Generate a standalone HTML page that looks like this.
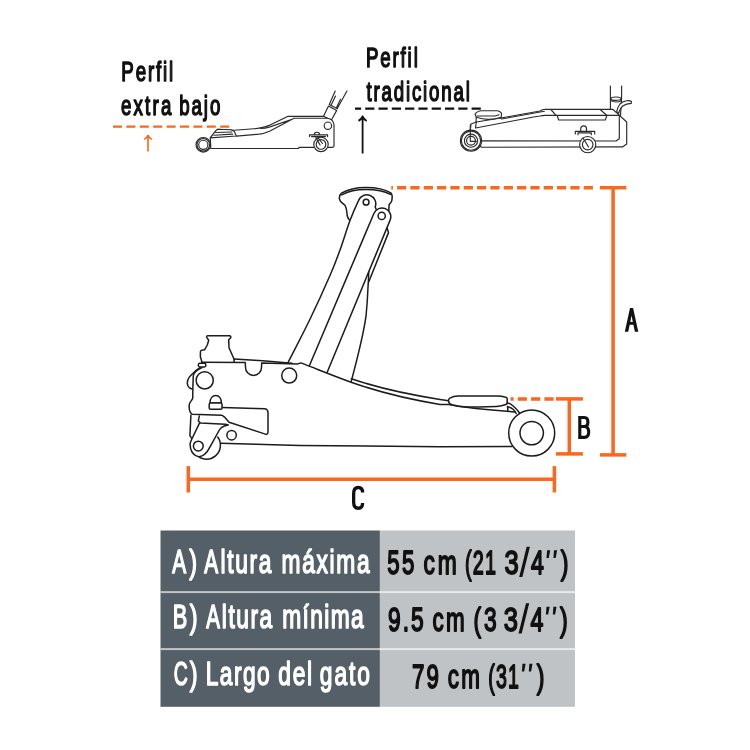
<!DOCTYPE html>
<html>
<head>
<meta charset="utf-8">
<title>Gato hidraulico - dimensiones</title>
<style>
  html, body { margin: 0; padding: 0; background: #ffffff; }
  body { width: 750px; height: 750px; overflow: hidden; font-family: "Liberation Sans", sans-serif; }
  svg { display: block; position: absolute; left: 0; top: 0; }
  text { font-family: "Liberation Sans", sans-serif; font-weight: normal; stroke-linejoin: round; }
  .tw { fill: #ffffff; stroke: #ffffff; stroke-width: 1.6; }
  .tb { fill: #111111; stroke: #111111; stroke-width: 1.8; }
  .tl { fill: #111111; stroke: #111111; stroke-width: 1.55; }
  .ln { fill: none; stroke: #1c1c1c; stroke-width: 1.5; stroke-linecap: round; stroke-linejoin: round; }
  .lf { fill: #ffffff; stroke: #1c1c1c; stroke-width: 1.5; stroke-linecap: round; stroke-linejoin: round; }
  .sm { fill: none; stroke: #2a2a2a; stroke-width: 1.15; stroke-linecap: round; stroke-linejoin: round; }
  .sf { fill: #ffffff; stroke: #2a2a2a; stroke-width: 1.15; stroke-linecap: round; stroke-linejoin: round; }
  .or { fill: none; stroke: #fb671c; stroke-width: 3.5; }
</style>
</head>
<body>
<svg width="750" height="750" viewBox="0 0 750 750">
  <defs><filter id="noLcd" filterUnits="userSpaceOnUse" x="0" y="0" width="750" height="750"><feOffset dx="0" dy="0"/></filter></defs>
  <rect x="0" y="0" width="750" height="750" fill="#ffffff"/>

  <!-- ===== table ===== -->
  <g id="table">
    <rect x="160.5" y="530.5" width="219.4" height="176.3" fill="#545f67"/>
    <rect x="379.9" y="530.5" width="195.1" height="176.3" fill="#bfc3c5"/>
    <rect x="160.5" y="591.1" width="414.5" height="2" fill="#ffffff" fill-opacity="0.64"/>
    <rect x="160.5" y="648.1" width="414.5" height="2" fill="#ffffff" fill-opacity="0.64"/>
    <g fill="#111111" id="quotes"><polygon points="526.7,546.7 529.9,546.7 522.4,577.0 519.2,577.0"/><polygon points="526.0,603.3 529.2,603.3 521.7,633.6 518.5,633.6"/><polygon points="547.1,550.2 550.2,550.2 548.8,557.9 546.5,557.9"/><polygon points="554.0,550.2 557.1,550.2 555.7,557.9 553.4,557.9"/><polygon points="546.5,606.8 549.6,606.8 548.2,614.5 545.9,614.5"/><polygon points="553.4,606.8 556.5,606.8 555.1,614.5 552.8,614.5"/><polygon points="522.5,663.8 525.6,663.8 524.2,671.5 521.9,671.5"/><polygon points="529.4,663.8 532.5,663.8 531.1,671.5 528.8,671.5"/></g>
    <g filter="url(#noLcd)">
    <g transform="translate(172.25 572.60) scale(0.6209 1)"><text font-size="33.5" class="tw" textLength="23.04" lengthAdjust="spacing">A</text></g>
    <g transform="translate(189.28 572.60) scale(0.7006 1)"><text font-size="33.5" class="tw" textLength="11.50" lengthAdjust="spacing">)</text></g>
    <g transform="translate(204.36 572.60) scale(0.6215 1)"><text font-size="33.5" class="tw" textLength="23.04" lengthAdjust="spacing">A</text></g>
    <g transform="translate(220.45 572.60) scale(0.6800 1)"><text font-size="33.5" class="tw" textLength="74.91" lengthAdjust="spacing">ltura</text></g>
    <g transform="translate(281.60 572.60) scale(0.6800 1)"><text font-size="33.5" class="tw" textLength="129.45" lengthAdjust="spacing">máxima</text></g>
    <g transform="translate(172.71 627.50) scale(0.6494 1)"><text font-size="33.5" class="tw" textLength="22.18" lengthAdjust="spacing">B</text></g>
    <g transform="translate(189.67 627.50) scale(0.6996 1)"><text font-size="33.5" class="tw" textLength="11.50" lengthAdjust="spacing">)</text></g>
    <g transform="translate(206.15 627.50) scale(0.6124 1)"><text font-size="33.5" class="tw" textLength="23.04" lengthAdjust="spacing">A</text></g>
    <g transform="translate(221.85 627.50) scale(0.6800 1)"><text font-size="33.5" class="tw" textLength="74.10" lengthAdjust="spacing">ltura</text></g>
    <g transform="translate(282.20 627.50) scale(0.6800 1)"><text font-size="33.5" class="tw" textLength="119.82" lengthAdjust="spacing">mínima</text></g>
    <g transform="translate(173.72 685.20) scale(0.5792 1)"><text font-size="33.5" class="tw" textLength="22.73" lengthAdjust="spacing">C</text></g>
    <g transform="translate(189.67 685.20) scale(0.6996 1)"><text font-size="33.5" class="tw" textLength="11.50" lengthAdjust="spacing">)</text></g>
    <g transform="translate(205.68 685.20) scale(0.6800 1)"><text font-size="33.5" class="tw" textLength="94.14" lengthAdjust="spacing">Largo</text></g>
    <g transform="translate(278.31 685.20) scale(0.6800 1)"><text font-size="33.5" class="tw" textLength="49.70" lengthAdjust="spacing">del</text></g>
    <g transform="translate(319.74 685.20) scale(0.6800 1)"><text font-size="33.5" class="tw" textLength="73.88" lengthAdjust="spacing">gato</text></g>
    <g transform="translate(387.13 574.00) scale(0.6638 1)"><text font-size="33.5" class="tb" textLength="41.20" lengthAdjust="spacing">55</text></g>
    <g transform="translate(423.60 574.00) scale(0.6800 1)"><text font-size="33.5" class="tb" textLength="48.78" lengthAdjust="spacing">cm</text></g>
    <g transform="translate(464.97 574.00) scale(0.5930 1)"><text font-size="33.5" class="tb" textLength="52.24" lengthAdjust="spacing">(21</text></g>
    <g transform="translate(504.55 574.00) scale(0.7598 1)"><text font-size="33.5" class="tb" textLength="19.21" lengthAdjust="spacing">3</text></g>
    <g transform="translate(531.10 574.00) scale(0.6916 1)"><text font-size="33.5" class="tb" textLength="19.21" lengthAdjust="spacing">4</text></g>
    <g transform="translate(560.80 574.00) scale(0.6910 1)"><text font-size="33.5" class="tb" textLength="11.50" lengthAdjust="spacing">)</text></g>
    <g transform="translate(388.05 630.50) scale(0.6800 1)"><text font-size="33.5" class="tb" textLength="52.27" lengthAdjust="spacing">9.5</text></g>
    <g transform="translate(432.43 630.50) scale(0.6690 1)"><text font-size="33.5" class="tb" textLength="48.21" lengthAdjust="spacing">cm</text></g>
    <g transform="translate(473.61 630.60) scale(0.6800 1)"><text font-size="33.5" class="tb" textLength="33.90" lengthAdjust="spacing">(3</text></g>
    <g transform="translate(503.85 630.60) scale(0.7598 1)"><text font-size="33.5" class="tb" textLength="19.21" lengthAdjust="spacing">3</text></g>
    <g transform="translate(530.40 630.60) scale(0.6916 1)"><text font-size="33.5" class="tb" textLength="19.21" lengthAdjust="spacing">4</text></g>
    <g transform="translate(560.00 630.60) scale(0.6910 1)"><text font-size="33.5" class="tb" textLength="11.50" lengthAdjust="spacing">)</text></g>
    <g transform="translate(412.03 687.50) scale(0.6664 1)"><text font-size="33.5" class="tb" textLength="40.45" lengthAdjust="spacing">79</text></g>
    <g transform="translate(447.63 687.50) scale(0.6690 1)"><text font-size="33.5" class="tb" textLength="48.21" lengthAdjust="spacing">cm</text></g>
    <g transform="translate(488.30 687.50) scale(0.5850 1)"><text font-size="33.5" class="tb" textLength="52.39" lengthAdjust="spacing">(31</text></g>
    <g transform="translate(536.80 687.50) scale(0.6910 1)"><text font-size="33.5" class="tb" textLength="11.50" lengthAdjust="spacing">)</text></g>
    </g>
  </g>

  <!-- ===== dimension lines ===== -->
  <g id="dims" class="or">
    <!-- A -->
    <line x1="391.3" y1="187.7" x2="596" y2="187.7" stroke-dasharray="9.2 4.133" stroke-dashoffset="7.57"/>
    <line x1="600" y1="187.7" x2="626.3" y2="187.7"/>
    <line x1="613.1" y1="187.7" x2="613.1" y2="454.9"/>
    <line x1="600" y1="454.9" x2="626.3" y2="454.9"/>
    <!-- B -->
    <line x1="510.6" y1="398.9" x2="556" y2="398.9" stroke-dasharray="9.2 4.133" stroke-dashoffset="6.2"/>
    <line x1="556" y1="398.9" x2="582.9" y2="398.9"/>
    <line x1="569.3" y1="398.9" x2="569.3" y2="453.9"/>
    <line x1="556" y1="453.9" x2="582.9" y2="453.9"/>
    <!-- C -->
    <line x1="188.3" y1="479.3" x2="554.4" y2="479.3"/>
    <line x1="188.3" y1="466.1" x2="188.3" y2="492.5"/>
    <line x1="554.4" y1="466.1" x2="554.4" y2="492.5"/>
  </g>
  <g id="abc">
    <path d="M624.8,331.7 L630,308 L633.1,308 L638.3,331.7 L634.9,331.7 L633.37,324.7 L629.73,324.7 L628.2,331.7 Z M630.3,322 L631.55,315.6 L632.8,322 Z" fill="#111111" fill-rule="evenodd"/>
    <path d="M579.8,415.9 L579.8,438.9 M578.2,417.45 L584.3,417.45 C587.2,417.45 587.9,419.4 587.9,421.9 C587.9,424.6 586.9,426.5 584.2,426.5 L579.8,426.5 M584.2,426.5 C587.7,426.5 588.7,428.9 588.7,432 C588.7,435.3 587.5,437.35 584.4,437.35 L578.2,437.35" fill="none" stroke="#111111" stroke-width="3.1" stroke-linejoin="round"/>
    <path d="M362.6,492.6 C362.6,489 361,487.5 358.3,487.5 C355,487.5 353.65,489.5 353.65,493.5 L353.65,502.3 C353.65,506.2 355,508.25 358.3,508.25 C361,508.25 362.6,506.7 362.6,503" fill="none" stroke="#111111" stroke-width="3.3"/>
  </g>

  <!-- ===== top labels ===== -->
  <g id="labels">
    <g filter="url(#noLcd)">
    <g transform="translate(121.32 81.40) scale(0.6800 1)"><text font-size="27.5" class="tl" textLength="76.29" lengthAdjust="spacing">Perfil</text></g>
    <g transform="translate(120.99 114.80) scale(0.6800 1)"><text font-size="27.5" class="tl" textLength="73.97" lengthAdjust="spacing">extra</text></g>
    <g transform="translate(179.25 114.80) scale(0.6800 1)"><text font-size="27.5" class="tl" textLength="60.34" lengthAdjust="spacing">bajo</text></g>
    <g transform="translate(365.92 67.00) scale(0.6800 1)"><text font-size="27.5" class="tl" textLength="76.29" lengthAdjust="spacing">Perfil</text></g>
    <g transform="translate(366.53 100.70) scale(0.6800 1)"><text font-size="27.5" class="tl" textLength="151.96" lengthAdjust="spacing">tradicional</text></g>
    </g>
    <!-- orange dashed + arrow -->
    <line x1="113" y1="126.6" x2="229.2" y2="126.6" stroke="#fb671c" stroke-width="2.2" stroke-dasharray="9 4.4"/>
    <path d="M148,151.6 L148,135.7 M144.2,139.4 Q146.9,138 148,135.4 Q149.1,138 151.8,139.4" fill="none" stroke="#fb671c" stroke-width="1.6" stroke-linejoin="round"/>
    <!-- black dashed + arrow -->
    <line x1="355" y1="108.7" x2="481" y2="108.7" stroke="#111111" stroke-width="2.2" stroke-dasharray="9.2 4.1" stroke-dashoffset="3.1"/>
    <path d="M362.6,153.5 L362.6,116.6 M358.5,120.9 Q361.4,119.2 362.6,116.3 Q363.8,119.2 366.7,120.9" fill="none" stroke="#111111" stroke-width="1.8" stroke-linejoin="round"/>
  </g>

  <!-- ===== main jack ===== -->
  <g id="mainjack">
    <!-- saddle -->
    <path class="lf" d="M339.3,198.6 C339.3,196 340,194.3 341.5,193.2 C347,189.8 356.5,187.4 366,187.4 C376,187.4 385,189.2 390.8,192.9 C391.8,193.9 392.3,195.6 392.2,197.3 L391.8,200.6 C391.3,202.4 390.2,203.6 389.2,204.4 L388.8,209 L388.8,212 L376,212 L350,220.5 L348.7,219 C347.6,217.5 347.4,216.5 347.2,215.5 C346.8,211 346.5,207 344.7,205 C342.5,203.3 339.8,202 339.3,198.6 Z"/>
    <path class="ln" d="M341.7,194.9 C348,191.5 357,189.6 366,189.6 C375.5,189.6 384.5,191.2 390.3,194.4"/>
    <!-- arm 1 -->
    <path class="lf" d="M284,371 C284.7,369.5 284,370.5 288.3,362 C292.6,353.5 302.6,334.5 309.6,320 C316.6,305.5 325.1,286.7 330.2,275 C335.3,263.3 336.7,259 340,250 C343.3,241 346.8,229 349.9,220.8 C353,212.5 356.8,204.2 358.64,200.4 A8.9,8.9 0 0 1 370.2,195.44 A8.9,8.9 0 0 1 375.16,207 L377,211 L371,260 L320,372 Z"/>
    <circle class="lf" cx="366.1" cy="202.2" r="2.9"/>
    <!-- rod + link -->
    <path class="lf" d="M385,224 L386.9,227.6 L388.5,232.6 L368.8,281.8 L362,268 Z"/>
    <path class="lf" d="M368.8,270.2 C368.7,276 368.4,282 368,287.3 C367.6,297 367,306 366.1,315.3 C363,338 357,360 350,386 L318,386 L360,268 Z"/>
    <!-- arm 2 -->
    <path class="lf" d="M306.3,373 L373.99,213.3 A8.75,8.75 0 0 1 385.45,208.64 A8.75,8.75 0 0 1 390.11,220.1 L324,380 Z"/>
    <circle class="lf" cx="381.7" cy="215.9" r="3.6"/>

    <!-- handle socket -->
    <path class="lf" d="M202,362.6 L201.3,359.7 L200.4,357 L200.4,351.8 C200.5,350.8 201,350.4 201.7,350.3 L204.7,349.7 L207.3,345 L208.7,340.3 L206.7,337.4 C206.4,336.3 206.8,335.7 207.9,335.7 L229.5,335.7 C230.6,335.8 231,336.8 230.7,337.8 L228.7,339.8 L229,347.7 L234,359 L234.2,363 Z"/>
    <!-- body fill -->
    <path d="M201.1,362 L298,363.5 L300.8,362.9 C318,369.5 334,376 350.4,382 C380,392.5 410,399.5 440,404.4 L512,411.4 L512.1,446.5 L220.7,443.2 L192,440 L189.9,411.5 L187.5,382 L192,372 Z" fill="#ffffff" stroke="none"/>
    <!-- body top -->
    <path class="ln" d="M201.6,362.2 L245.3,362.6 L245.5,367.4 A8,8 0 0 0 261.5,367.4 L261.7,362.9 L298,363.9 L300.8,362.9 C318,369.5 334,376 350.4,382 C380,392.5 410,399.5 440,404.4 L448.7,404.5 C458,406.4 467,407.6 476,408.5 C485,409.5 497,410.6 507,411.2 L514.6,411.9"/>
    <path class="ln" d="M234,359 L262.7,360.7 L292,363.2"/>
    <path class="ln" d="M351.3,378.8 C380,388.5 410,394.8 440,399.4 L448.7,400.8"/>
    <!-- folded saddle pill -->
    <path class="lf" d="M448.4,400.6 C448.6,399.4 449,398.6 449.8,398.1 C452,397 455,396.1 458,396 L497.6,396 C500.5,396.1 503,396.5 504.8,397 C506.2,397.3 507.2,397.7 507.2,398.4 L507.2,403 C507.2,403.8 506.8,404.1 506.4,404.3 C503.5,405.6 500,406.4 496.4,406.6 C486,407.1 474,407.1 464,406.8 C459.5,406.6 455.5,405.8 452,404.8 C450,404.2 448.6,402.6 448.4,400.6 Z"/>
    <path class="ln" d="M507.5,406.4 L507.9,410.9"/>
    <path class="ln" d="M507.2,402.8 C509.5,403.2 511.5,404.3 513.2,406 C515.5,408 517.6,410.3 519.4,412.8"/>
    <path class="ln" d="M508,407.1 C510,407.4 511.5,408 513,409.3 C514.3,410.4 515.3,411.7 516.2,413.5"/>
    <!-- body bottom -->
    <path class="ln" d="M220.7,443.2 L300,445.5 L440,446.8 L512.1,446.5"/>
    <!-- front wheel -->
    <circle class="lf" cx="531.7" cy="433.1" r="23"/>
    <circle class="lf" cx="531.7" cy="433.1" r="11.7"/>
    <!-- circles -->
    <circle class="lf" cx="204.7" cy="380.3" r="8.6"/>
    <circle class="lf" cx="289.2" cy="375.6" r="7.5"/>
    <circle class="lf" cx="231.6" cy="435.2" r="4.7"/>
    <!-- roller -->
    <rect class="lf" x="198.3" y="363.3" width="7.6" height="3.6" rx="1.6"/>
    <!-- left outline -->
    <path class="ln" d="M200,367.7 C197.5,369.3 195.3,371 193.3,373 C191,375.2 189.2,376.8 188.3,378.8 C187.4,380.5 187.2,382 187.3,383.7 C187.5,385.6 188.2,386.8 189.3,387.7 C190.2,388.4 191,388.8 192.3,389"/>
    <path class="ln" d="M202,367.6 C199.3,369 197.2,370 196,371.2 C194.6,372.6 193.6,374 193.3,375.7 L192.9,386.3 L192.7,398.3 C192.2,400.2 190.2,401.8 189.5,403.7 C189,405.3 189,407.4 189.3,409 C189.6,411 190.3,412.6 191.3,413.7 L192.2,414.3 L221.7,415.2 C222.8,415.4 223.6,416.2 224.5,417.1 L229.1,422.3 L266.1,434.4 C267.3,434.2 268,433.2 268,432.2 L268,412.4 C267.8,410 266.6,408.8 264.4,408.7 L222,407.4"/>
    <!-- dome bolt -->
    <path class="lf" d="M210,403.1 C210,398.4 212.5,395.4 215.7,395.4 C219,395.4 221.4,398.4 221.4,403.1 Z"/>
    <rect class="lf" x="209.2" y="403.1" width="12.8" height="6.1" rx="1.3"/>
    <!-- lower-left + caster -->
    <path class="ln" d="M190.9,415.2 L189.9,435.7 L192.7,439.8"/>
    <path class="ln" d="M199.3,416.1 L198.3,420.8 L200,422.6"/>
    <path class="ln" d="M217.7,437 A13.9,13.9 0 0 1 196.6,455"/>
    <path class="lf" d="M199.6,422.9 L191.5,439.8 C190.4,442 190,443.5 190.1,445 C190.3,448 190.9,450.2 192,452 C193.2,453.9 194.6,455.1 196.3,455.9 C197.6,456.5 198.8,456.7 199.8,456.6 C201.5,456.4 203,455.6 204.5,454.4 C206.8,452.4 208.6,449.8 210.3,446.3 L218.5,431.5 C219.4,429.8 220.3,428.6 221.3,427.7 C223.2,426.3 225.5,425.5 228.3,425 L225.3,424.3 L200.5,423 Z"/>
    <circle class="lf" cx="198.3" cy="446.1" r="4.9"/>
  </g>

  <!-- ===== small jack: extra low profile ===== -->
  <g id="lowjack">
    <!-- handle socket -->
    <path class="sf" d="M323.3,116.8 L328.5,106.1 L336.7,110.4 L331.3,120.2 Z"/>
    <path class="sm" d="M329.2,104.5 L337.4,108.7 M329.5,104 L335.2,91 M331.2,104.9 L335.5,96.1 M337.4,108.3 L346.9,91 M336.7,107.3 L340.5,99.3"/>
    <!-- body -->
    <path class="sf" d="M210.8,148.5 L298.3,148.5 L299.3,147.4 L332.4,147.4 C333.5,147.3 334,146.8 334,146.1 L334,124.8 C333.6,121.5 331,118.8 327.6,118.2 L323.3,116.3 L288.1,116.3 L270,125.1 C264,127.3 259,128.5 254,128.8 L234.3,130.2 L217.7,129.3 L210.3,137.9 Z"/>
    <path class="sm" d="M294,118.2 L327.6,118.2 M294,118.2 L270,130.9 C266,132.7 262,133.8 259.3,134.1 L236.4,136.1 M291.3,119.5 L270,126.9 C266.5,128 263.5,128.5 260.5,128.5"/>
    <!-- saddle -->
    <path class="sf" d="M210.3,137.9 L215.6,130.9 L217.7,129.3 L231.1,129.7 L234.3,131.5 L236.4,136 Z"/>
    <path class="sm" d="M214,135.2 L232.7,134.1 M215.6,132.5 L231.6,132"/>
    <!-- pivot -->
    <circle class="sf" cx="327.9" cy="125.7" r="3.7"/>
    <!-- caster -->
    <circle class="sf" cx="321" cy="144.4" r="7.2"/>
    <circle class="sm" cx="321" cy="144.4" r="4.8"/>
    <path class="sm" d="M309.5,136.6 L309.5,134.9 L327.6,134.9 L327.6,136.6 M311.5,136.6 L325.5,136.6 M314.2,134.9 A2.7,2.7 0 0 1 319.6,134.9 M315.9,137.6 L320.1,145 M317.5,137 L322.5,143.5"/>
    <!-- front wheel -->
    <circle class="sf" cx="203.3" cy="144.8" r="7.3"/>
    <circle class="sm" cx="203.3" cy="144.8" r="6.3"/>
    <circle class="sm" cx="203.3" cy="144.8" r="4.6"/>
  </g>

  <!-- ===== small jack: traditional profile ===== -->
  <g id="tradjack">
    <!-- handle -->
    <path class="sf" d="M610.4,86 L610.4,115.3 L620.5,115.3 L621.6,98.7 L621.6,86"/>
    <ellipse class="sf" cx="615.9" cy="98.7" rx="5" ry="1.7"/>
    <path class="sm" d="M611,100.6 C613,102.4 619,102.4 620.9,100.6"/>
    <!-- lever -->
    <path class="sf" d="M616.7,111.3 C617.5,108 618.5,105.8 620,104 C622,102 624.5,100.9 626.7,100.7 C628.5,100.5 630.3,100.7 631.3,101.3 L631.3,103.3 C628,103.3 625,104.3 622.7,106 C620.8,107.8 619.5,110.3 618.7,113.3 Z"/>
    <!-- body -->
    <path class="sf" d="M481.7,147.2 L622.8,146.8 L626.7,144 L626.7,122 L618.7,114.7 L612.7,109.3 L545.3,109.3 C543,109.5 541,110.3 540,111 L501,118 L476.3,122 L474.3,122.7 L471,124 L470.3,130 L470.3,141 Z"/>
    <path class="sm" d="M481.7,140.9 L616,141 L619.3,138.7 L619.3,116 M476.3,122 L475.5,128 L535,116.7 L540,116 C542,115.5 543.5,115.3 545,115.3 L618.7,115.3 M501.5,119 L544.3,111.3"/>
    <!-- step plate -->
    <path class="sm" d="M551.3,110 L556,115.3 M557.3,116 L558.7,120 L605.3,120 L606.7,116 M600.7,110 L606.7,115.3"/>
    <!-- saddle -->
    <path class="sf" d="M475,114 C476.5,112 479,110.7 481.7,110.7 L497.7,110.7 C500,111.3 501.5,112.5 501.7,114 L501,117.3 C497,118.8 492.5,119.3 488.3,119.3 C484,119.3 480,118.6 476.3,117.3 Z"/>
    <path class="sm" d="M477,116 L495,116 L499,114.7 M476.3,117.3 L476,121.8 M501,117.3 L501,118.4"/>
    <!-- caster -->
    <circle class="sf" cx="587.7" cy="144.6" r="8.1"/>
    <circle class="sm" cx="587.7" cy="144.6" r="5.3"/>
    <path class="sm" d="M575.3,134 L575.3,131.3 L594.7,131.3 L594.7,134 M578,134.7 L578,132.8 L591.3,132.8 L591.3,134.7 M580.7,131.3 L580.7,128.8 A2.9,2.9 0 0 1 586.5,128.8 L586.5,131.3 M583,138 L588.5,147"/>
    <!-- front wheel -->
    <circle class="sf" cx="471" cy="140.7" r="10.6"/>
    <circle class="sm" cx="471" cy="140.7" r="9.6"/>
    <circle class="sm" cx="471" cy="140.7" r="6.6"/>
    <circle class="sm" cx="471" cy="140.7" r="4.4"/>
    <path class="sm" d="M470.3,124.7 L470.3,141.3 L476.3,141.3"/>
  </g>

</svg>
</body>
</html>
